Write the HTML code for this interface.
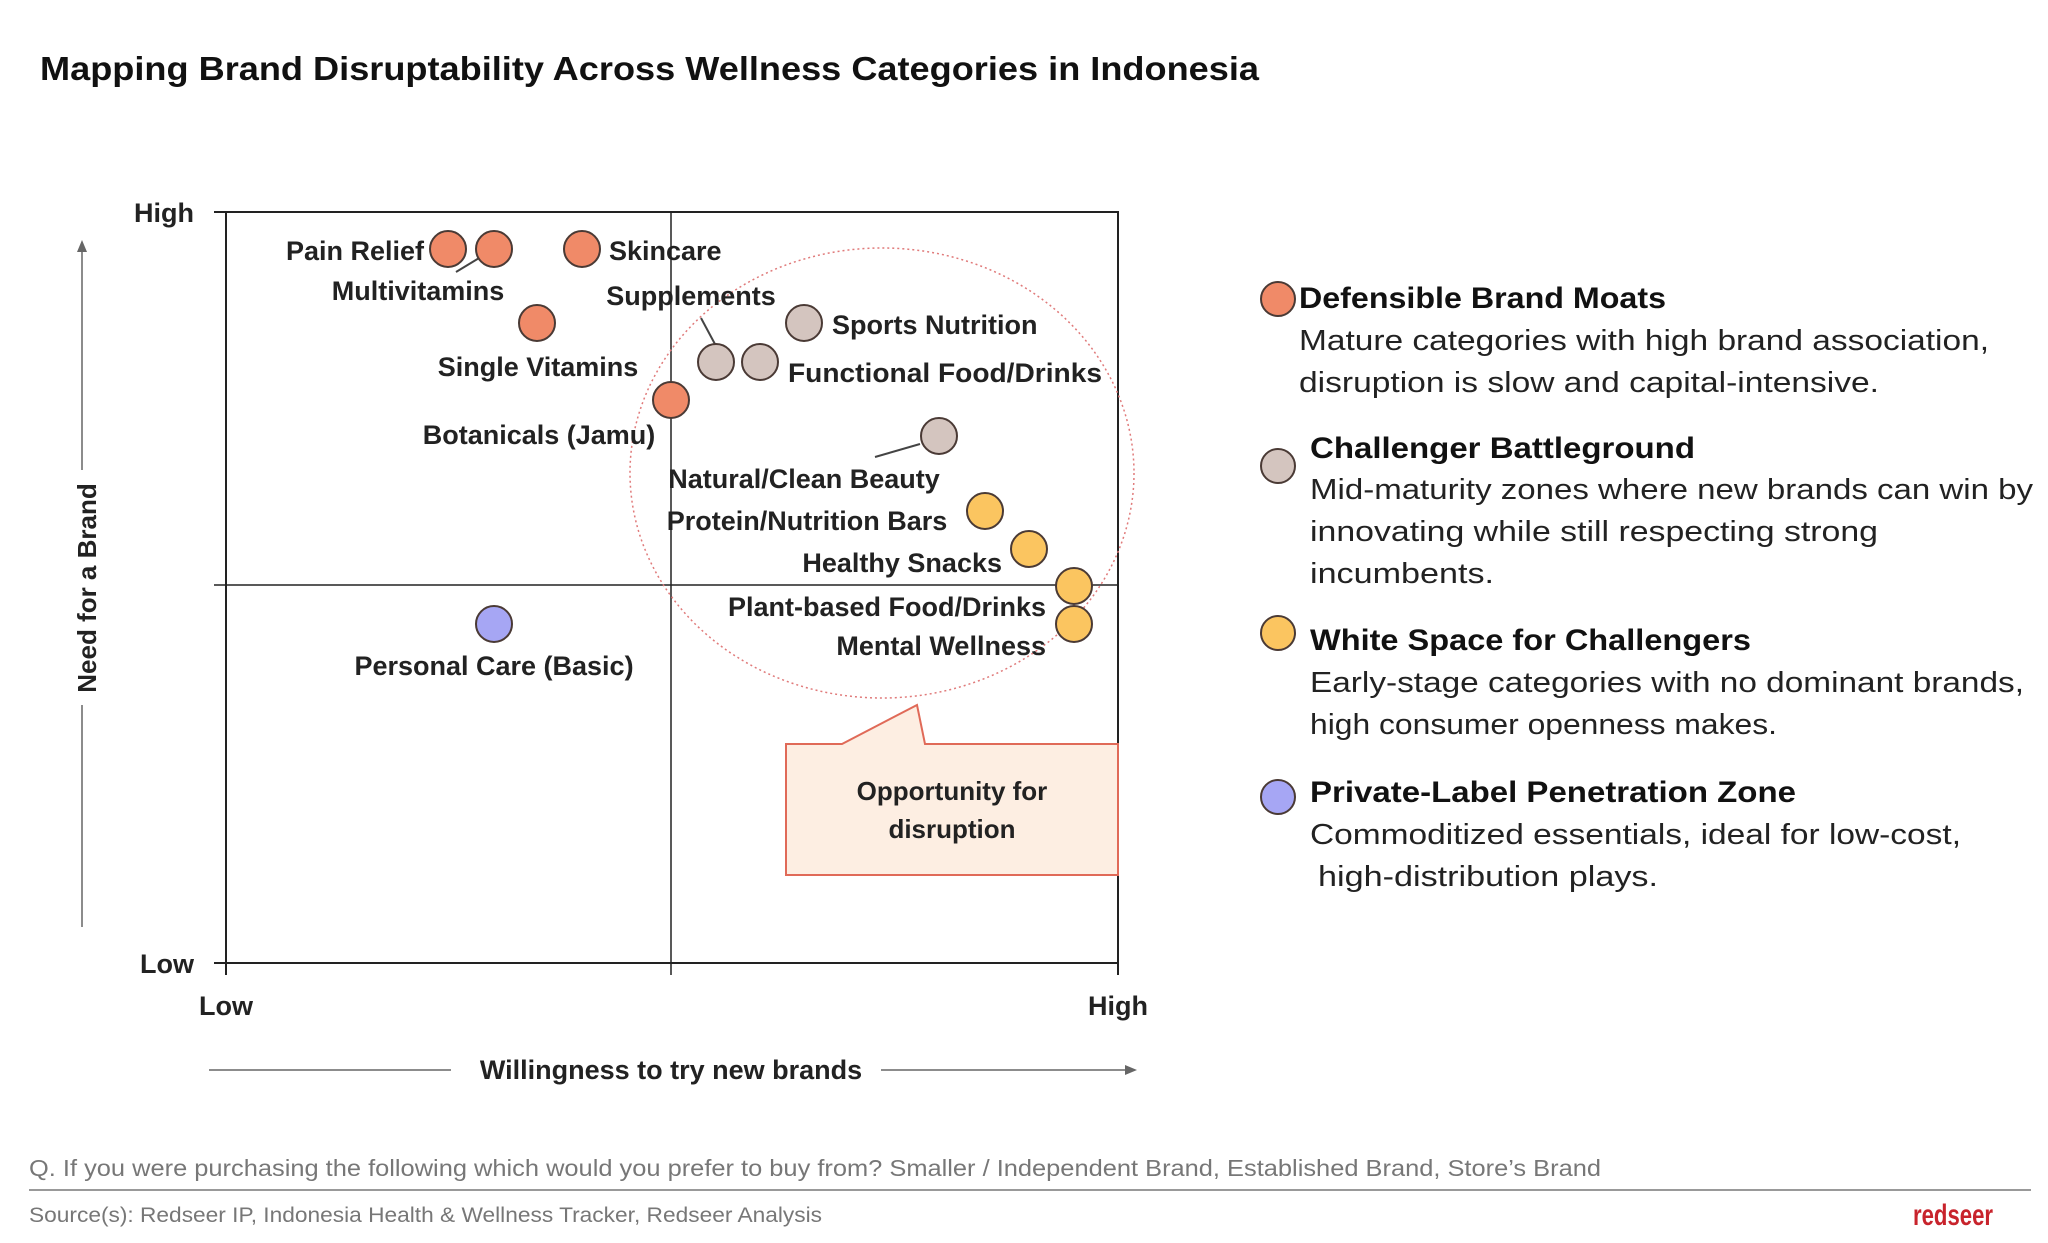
<!DOCTYPE html>
<html><head><meta charset="utf-8"><style>
html,body{margin:0;padding:0;background:#fff;}
svg{display:block;}
text{font-family:"Liberation Sans",Arial,sans-serif;}
</style></head><body>
<svg width="2048" height="1243" viewBox="0 0 2048 1243" xmlns="http://www.w3.org/2000/svg">
<rect width="2048" height="1243" fill="#fff"/>
<text x="40" y="80" font-size="33" font-weight="bold" fill="#111" textLength="1219" lengthAdjust="spacingAndGlyphs">Mapping Brand Disruptability Across Wellness Categories in Indonesia</text>

<rect x="226" y="212" width="892" height="751" fill="none" stroke="#222" stroke-width="2"/>
<line x1="671" y1="212" x2="671" y2="975" stroke="#222" stroke-width="1.5"/>
<line x1="214" y1="585" x2="1118" y2="585" stroke="#222" stroke-width="1.5"/>
<line x1="214" y1="212" x2="226" y2="212" stroke="#222" stroke-width="2"/>
<line x1="214" y1="963" x2="226" y2="963" stroke="#222" stroke-width="2"/>
<line x1="226" y1="963" x2="226" y2="975" stroke="#222" stroke-width="2"/>
<line x1="1118" y1="963" x2="1118" y2="975" stroke="#222" stroke-width="2"/>

<g font-weight="bold" font-size="27" fill="#222">
<text x="194" y="222" text-anchor="end">High</text>
<text x="194" y="973" text-anchor="end">Low</text>
<text x="226" y="1015" text-anchor="middle">Low</text>
<text x="1118" y="1015" text-anchor="middle">High</text>
</g>

<line x1="82" y1="927" x2="82" y2="705" stroke="#666" stroke-width="1.5"/>
<line x1="82" y1="470" x2="82" y2="248" stroke="#666" stroke-width="1.5"/>
<polygon points="82,240 77,252 87,252" fill="#666"/>
<text transform="translate(96,588) rotate(-90)" text-anchor="middle" font-size="26" font-weight="bold" fill="#222">Need for a Brand</text>
<line x1="209" y1="1070" x2="451" y2="1070" stroke="#666" stroke-width="1.5"/>
<line x1="881" y1="1070" x2="1128" y2="1070" stroke="#666" stroke-width="1.5"/>
<polygon points="1137,1070 1125,1065 1125,1075" fill="#666"/>
<text x="671" y="1079" text-anchor="middle" font-size="27" font-weight="bold" fill="#222">Willingness to try new brands</text>

<ellipse cx="882" cy="473" rx="252" ry="225" fill="none" stroke="#e07a7a" stroke-width="1.5" stroke-dasharray="2,3"/>

<path d="M786,744 L842,744 L917,705 L925,744 L1118,744 L1118,875 L786,875 Z" fill="#fdeee2" stroke="#e06a58" stroke-width="2"/>
<text x="952" y="800" text-anchor="middle" font-size="26" font-weight="bold" fill="#222">Opportunity for</text>
<text x="952" y="838" text-anchor="middle" font-size="26" font-weight="bold" fill="#222">disruption</text>

<g stroke="#444" stroke-width="2">
<line x1="494" y1="249" x2="456" y2="272"/>
<line x1="701" y1="318" x2="716" y2="346"/>
<line x1="875" y1="457" x2="920" y2="444"/>
</g>

<g stroke="#4a3a35" stroke-width="2">
<g fill="#f08a68">
<circle cx="448" cy="249" r="18"/><circle cx="494" cy="249" r="18"/><circle cx="582" cy="249" r="18"/>
<circle cx="537" cy="323" r="18"/><circle cx="671" cy="400" r="18"/>
</g>
<g fill="#d4c5bf">
<circle cx="716" cy="362" r="18"/><circle cx="760" cy="362" r="18"/><circle cx="804" cy="323" r="18"/><circle cx="939" cy="436" r="18"/>
</g>
<g fill="#fbc560">
<circle cx="985" cy="511" r="18"/><circle cx="1029" cy="549" r="18"/><circle cx="1074" cy="586" r="18"/><circle cx="1074" cy="624" r="18"/>
</g>
<circle cx="494" cy="624" r="18" fill="#a6a6f4"/>
</g>

<g font-weight="bold" font-size="27" fill="#222">
<text x="424" y="260" text-anchor="end">Pain Relief</text>
<text x="418" y="300" text-anchor="middle">Multivitamins</text>
<text x="609" y="260">Skincare</text>
<text x="691" y="305" text-anchor="middle">Supplements</text>
<text x="538" y="376" text-anchor="middle">Single Vitamins</text>
<text x="832" y="334">Sports Nutrition</text>
<text x="788" y="382" textLength="314" lengthAdjust="spacingAndGlyphs">Functional Food/Drinks</text>
<text x="539" y="444" text-anchor="middle">Botanicals (Jamu)</text>
<text x="804" y="488" text-anchor="middle">Natural/Clean Beauty</text>
<text x="807" y="530" text-anchor="middle">Protein/Nutrition Bars</text>
<text x="1002" y="572" text-anchor="end">Healthy Snacks</text>
<text x="1046" y="616" text-anchor="end">Plant-based Food/Drinks</text>
<text x="1046" y="655" text-anchor="end">Mental Wellness</text>
<text x="494" y="675" text-anchor="middle">Personal Care (Basic)</text>
</g>

<g stroke="#4a3a35" stroke-width="2">
<circle cx="1278" cy="299" r="17" fill="#f08a68"/>
<circle cx="1278" cy="466" r="17" fill="#d4c5bf"/>
<circle cx="1278" cy="633" r="17" fill="#fbc560"/>
<circle cx="1278" cy="797" r="17" fill="#a6a6f4"/>
</g>
<g font-weight="bold" font-size="30" fill="#111">
<text x="1299" y="308" textLength="367" lengthAdjust="spacingAndGlyphs">Defensible Brand Moats</text>
<text x="1310" y="458" textLength="385" lengthAdjust="spacingAndGlyphs">Challenger Battleground</text>
<text x="1310" y="650" textLength="441" lengthAdjust="spacingAndGlyphs">White Space for Challengers</text>
<text x="1310" y="802" textLength="486" lengthAdjust="spacingAndGlyphs">Private-Label Penetration Zone</text>
</g>
<g font-size="29" fill="#222">
<text x="1299" y="350" textLength="690" lengthAdjust="spacingAndGlyphs">Mature categories with high brand association,</text>
<text x="1299" y="392" textLength="580" lengthAdjust="spacingAndGlyphs">disruption is slow and capital-intensive.</text>
<text x="1310" y="499" textLength="723" lengthAdjust="spacingAndGlyphs">Mid-maturity zones where new brands can win by</text>
<text x="1310" y="541" textLength="568" lengthAdjust="spacingAndGlyphs">innovating while still respecting strong</text>
<text x="1310" y="583" textLength="184" lengthAdjust="spacingAndGlyphs">incumbents.</text>
<text x="1310" y="692" textLength="714" lengthAdjust="spacingAndGlyphs">Early-stage categories with no dominant brands,</text>
<text x="1310" y="734" textLength="467" lengthAdjust="spacingAndGlyphs">high consumer openness makes.</text>
<text x="1310" y="844" textLength="651" lengthAdjust="spacingAndGlyphs">Commoditized essentials, ideal for low-cost,</text>
<text x="1318" y="886" textLength="340" lengthAdjust="spacingAndGlyphs">high-distribution plays.</text>
</g>

<text x="29" y="1176" font-size="23" fill="#777" textLength="1572" lengthAdjust="spacingAndGlyphs">Q. If you were purchasing the following which would you prefer to buy from? Smaller / Independent Brand, Established Brand, Store’s Brand</text>
<line x1="29" y1="1190" x2="2031" y2="1190" stroke="#999" stroke-width="2"/>
<text x="29" y="1222" font-size="21" fill="#777" textLength="793" lengthAdjust="spacingAndGlyphs">Source(s): Redseer IP, Indonesia Health &amp; Wellness Tracker, Redseer Analysis</text>
<text x="1913" y="1225" font-family="Liberation Serif,serif" font-weight="bold" font-size="30" fill="#c8232c" textLength="80" lengthAdjust="spacingAndGlyphs">redseer</text>
</svg>
</body></html>
